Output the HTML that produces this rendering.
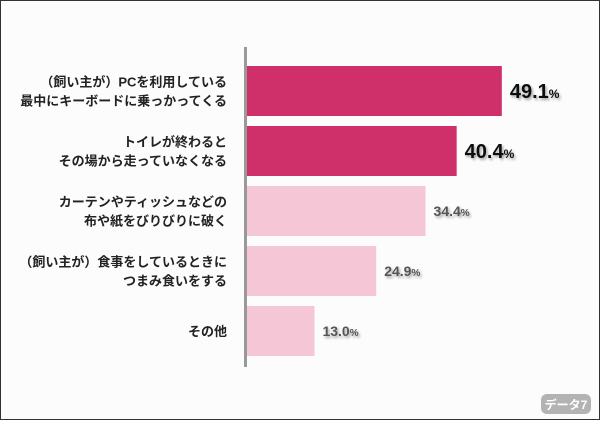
<!DOCTYPE html>
<html><head><meta charset="utf-8"><style>
body{margin:0;width:600px;height:420px;overflow:hidden;background:#fff}
#c{position:absolute;left:0;top:0;width:598px;height:418px;border:1px solid #333;background:#fcfcfc}
text{font-family:"Liberation Sans","Noto Sans CJK JP",sans-serif}
</style></head><body>
<div id="c">
<svg id="s" width="598" height="418">
<defs><filter id="sh" x="-10%" y="-20%" width="130%" height="150%"><feDropShadow dx="1.5" dy="2" stdDeviation="1.2" flood-color="#000" flood-opacity="0.35"/></filter></defs>
<rect x="243" y="46" width="3" height="320" fill="#999"/>
<g id="bars"></g>
<rect x="540" y="393" width="50" height="20" rx="6" fill="#b3b3b3"/>
<text x="565" y="408" text-anchor="middle" font-size="12" font-weight="bold" fill="#fff">データ7</text>
</svg></div>
<script>
const categories=[["（飼い主が）PCを利用している","最中にキーボードに乗っかってくる"],["トイレが終わると","その場から走っていなくなる"],["カーテンやティッシュなどの","布や紙をびりびりに破く"],["（飼い主が）食事をしているときに","つまみ食いをする"],["その他"]];
const values=[49.1,40.4,34.4,24.9,13.0];
const highlight=[true,true,false,false,false];
const x0=246,scale=5.19,y0=65,step=60,bh=50;
const xs=v=>x0+v*scale, ys=i=>y0+i*step;
const g=document.getElementById('bars'),NS='http://www.w3.org/2000/svg';
values.forEach((v,i)=>{
 const r=document.createElementNS(NS,'rect');
 r.setAttribute('x',x0);r.setAttribute('y',ys(i));r.setAttribute('width',xs(v)-x0);r.setAttribute('height',bh);
 r.setAttribute('fill',highlight[i]?'#d03069':'#f4c6d6');
 
 
 g.appendChild(r);
 const t=document.createElementNS(NS,'text');
 t.setAttribute('x',xs(v)+8);t.setAttribute('y',ys(i)+bh/2+(highlight[i]?7:5));
 t.setAttribute('font-family','"Liberation Mono",monospace');t.setAttribute('font-weight','bold');
 t.setAttribute('font-size',highlight[i]?20:14);t.setAttribute('fill',highlight[i]?'#111':'#555');
 t.setAttribute('filter','url(#sh)');
 t.innerHTML=v.toFixed(1)+'<tspan font-size="'+(highlight[i]?12:10)+'">%</tspan>';
 
 
 g.appendChild(t);
 const lines=categories[i];
 lines.forEach((ln,j)=>{
  const c=document.createElementNS(NS,'text');
  const cy=ys(i)+bh/2+5+(j-(lines.length-1)/2)*19;
  c.setAttribute('x',226);c.setAttribute('y',cy);c.setAttribute('text-anchor','end');
  c.setAttribute('font-size',13);c.setAttribute('fill','#222');c.setAttribute('font-weight','bold');
  c.textContent=ln;
  
  
  g.appendChild(c);
 });
});
</script>
</body></html>
